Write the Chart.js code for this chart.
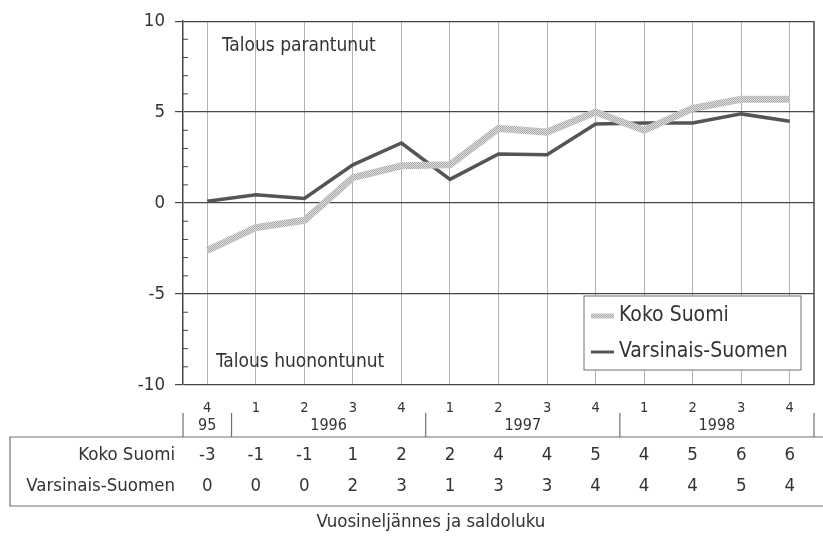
<!DOCTYPE html>
<html>
<head>
<meta charset="utf-8">
<script src="https://cdn.jsdelivr.net/npm/chart.js@4/dist/chart.umd.min.js"></script>
<style>
html, body { margin: 0; padding: 0; background: #fff; }
#wrap { width: 823px; height: 543px; }
</style>
</head>
<body>
<div id="wrap"><canvas id="chart" width="823" height="543"></canvas></div>
<script>
// quarters along the x axis and the year groups under them
const quarters = ['4', '1', '2', '3', '4', '1', '2', '3', '4', '1', '2', '3', '4'];
const yearLabels = ['95', '1996', '1997', '1998'];
const yearSpans = [1, 4, 4, 4];

// balance figures as drawn (lines)
const kokoSuomi = [-2.6, -1.35, -0.95, 1.4, 2.05, 2.1, 4.1, 3.9, 5.0, 4.0, 5.2, 5.7, 5.7];
const varsinaisSuomi = [0.1, 0.45, 0.25, 2.1, 3.3, 1.3, 2.7, 2.65, 4.35, 4.4, 4.4, 4.9, 4.5];

// rounded balance figures in the table under the chart
const kokoTable = [-3, -1, -1, 1, 2, 2, 4, 4, 5, 4, 5, 6, 6];
const varsTable = [0, 0, 0, 2, 3, 1, 3, 3, 4, 4, 4, 5, 4];
const rowLabels = ['Koko Suomi', 'Varsinais-Suomen'];

const FONT = "'DejaVu Sans Condensed', 'DejaVu Sans', sans-serif";
const TEXT = '#333333';
const LINE = '#474747';
const RULE = '#707070';

Chart.defaults.font.family = FONT;
Chart.defaults.color = TEXT;

// dotted light grey texture used for the Koko Suomi line
function makePattern() {
    const c = document.createElement('canvas');
    c.width = 2;
    c.height = 2;
    const g = c.getContext('2d');
    g.fillStyle = '#dedede';
    g.fillRect(0, 0, 2, 2);
    g.fillStyle = '#a9a9a9';
    g.fillRect(0, 0, 1, 1);
    g.fillRect(1, 1, 1, 1);
    return g.createPattern(c, 'repeat');
}

const extras = {
    id: 'extras',
    afterDraw(chart) {
        const ctx = chart.ctx;
        const area = chart.chartArea;
        const xs = chart.scales.x;
        const ys = chart.scales.y;
        const step = xs.getPixelForValue(1) - xs.getPixelForValue(0);

        ctx.save();

        // right border of the plot
        ctx.strokeStyle = LINE;
        ctx.lineWidth = 1.5;
        ctx.beginPath();
        ctx.moveTo(area.right, area.top);
        ctx.lineTo(area.right, area.bottom);
        ctx.stroke();

        // minor ticks inside the y axis
        ctx.lineWidth = 1;
        for (let v = ys.min; v <= ys.max; v++) {
            if (v % 5 === 0) continue;
            const y = ys.getPixelForValue(v);
            ctx.beginPath();
            ctx.moveTo(area.left, y);
            ctx.lineTo(area.left + 5, y);
            ctx.stroke();
        }

        // notes in the plot
        ctx.fillStyle = TEXT;
        ctx.font = '19px ' + FONT;
        ctx.textAlign = 'left';
        ctx.textBaseline = 'middle';
        ctx.fillText('Talous parantunut', 222, 46);
        ctx.fillText('Talous huonontunut', 216, 362);

        // year row with separators
        ctx.strokeStyle = RULE;
        ctx.lineWidth = 1.2;
        ctx.font = '16px ' + FONT;
        ctx.textAlign = 'center';
        let start = 0;
        const edges = [0];
        yearSpans.forEach(n => { start += n; edges.push(start); });
        edges.forEach(i => {
            const x = xs.getPixelForValue(i) - step / 2;
            ctx.beginPath();
            ctx.moveTo(x, 413);
            ctx.lineTo(x, 437);
            ctx.stroke();
        });
        yearLabels.forEach((lab, k) => {
            const a = xs.getPixelForValue(edges[k]) - step / 2;
            const b = xs.getPixelForValue(edges[k + 1]) - step / 2;
            ctx.fillText(lab, (a + b) / 2, 426);
        });

        // table frame
        ctx.beginPath();
        ctx.moveTo(chart.width, 437);
        ctx.lineTo(10, 437);
        ctx.lineTo(10, 506);
        ctx.lineTo(chart.width, 506);
        ctx.stroke();

        // table rows
        ctx.font = '18.5px ' + FONT;
        const rows = [kokoTable, varsTable];
        const rowY = [455, 486];
        rows.forEach((vals, r) => {
            ctx.textAlign = 'right';
            ctx.fillText(rowLabels[r], 175, rowY[r]);
            ctx.textAlign = 'center';
            vals.forEach((v, i) => {
                ctx.fillText(String(v), xs.getPixelForValue(i), rowY[r]);
            });
        });

        // axis title
        ctx.font = '18.5px ' + FONT;
        ctx.textAlign = 'center';
        ctx.fillText('Vuosineljännes ja saldoluku', 431, 522);

        // legend box
        const lx = 584, ly = 296, lw = 217, lh = 74;
        ctx.fillStyle = '#fff';
        ctx.fillRect(lx, ly, lw, lh);
        ctx.strokeStyle = RULE;
        ctx.lineWidth = 1;
        ctx.strokeRect(lx, ly, lw, lh);
        ctx.font = '21px ' + FONT;
        ctx.textAlign = 'left';
        chart.data.datasets.forEach((ds, i) => {
            const y = i === 0 ? 316 : 352;
            ctx.strokeStyle = ds.borderColor;
            ctx.lineWidth = i === 0 ? 5 : 3;
            ctx.beginPath();
            ctx.moveTo(591, y);
            ctx.lineTo(614, y);
            ctx.stroke();
            ctx.fillStyle = TEXT;
            ctx.fillText(ds.label, 619, y);
        });

        ctx.restore();
    }
};

new Chart(document.getElementById('chart'), {
    type: 'line',
    data: {
        labels: quarters,
        datasets: [
            {
                label: 'Koko Suomi',
                data: kokoSuomi,
                borderColor: makePattern(),
                borderWidth: 7,
                pointRadius: 0,
                tension: 0
            },
            {
                label: 'Varsinais-Suomen',
                data: varsinaisSuomi,
                borderColor: '#555555',
                borderWidth: 3.5,
                pointRadius: 0,
                tension: 0
            }
        ]
    },
    options: {
        responsive: false,
        animation: false,
        layout: { padding: { left: 0, right: 9, top: 20, bottom: 0 } },
        plugins: {
            legend: { display: false },
            tooltip: { enabled: false }
        },
        scales: {
            x: {
                offset: true,
                grid: { color: '#b4b4b4', lineWidth: 1, drawTicks: false },
                border: { display: false },
                ticks: { font: { size: 14.5 }, padding: 15, maxRotation: 0, autoSkip: false },
                afterFit: s => { s.height = 158; }
            },
            y: {
                min: -10,
                max: 10,
                ticks: { stepSize: 5, font: { size: 18.5 }, padding: 10 },
                grid: { color: LINE, lineWidth: 1.2, tickLength: 8, tickColor: LINE },
                border: { color: LINE, width: 1.5 },
                afterFit: s => { s.width = 183; }
            }
        }
    },
    plugins: [extras]
});
</script>
</body>
</html>
